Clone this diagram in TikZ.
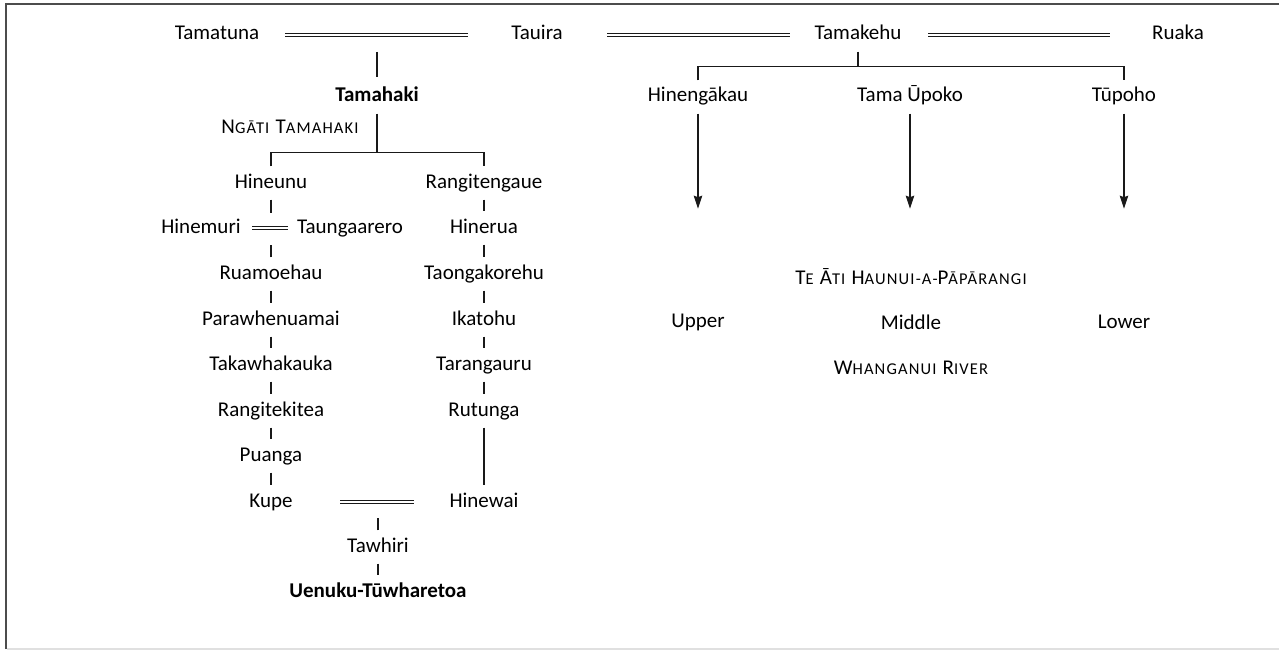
\documentclass[tikz,border=0pt]{standalone}
\usepackage{fontspec}
\setmainfont{Carlito}
\newfontfamily\spacedfont[LetterSpace=7]{Carlito}
\usetikzlibrary{arrows.meta,calc}

% reduced, tracked capitals for the group and river names
\newcommand{\lowcap}[1]{{\fontsize{16.5}{20}\selectfont #1}}
\newcommand{\namecaps}[1]{{\spacedfont\fontsize{21}{25}\selectfont #1}}

\begin{document}
\begin{tikzpicture}[x=1pt,y=-1pt,
  person/.style={inner xsep=8pt,inner ysep=0pt,text height=14pt,text depth=4pt,
                 minimum height=33pt,font=\fontsize{21}{25}\selectfont},
  chief/.style={person,font=\fontsize{21}{25}\selectfont\bfseries},
  caption/.style={inner sep=0pt,font=\fontsize{21}{25}\selectfont},
  kin/.style={line width=1.1pt,draw=black!90},
  marr/.style={line width=0.9pt,draw=black!90,double,double distance=1.8pt},
  flow/.style={line width=1.1pt,draw=black!90,-{Stealth[length=13pt,width=8.5pt,inset=1.5pt]}}]

\useasboundingbox (0,0) rectangle (1279,650);
% page frame
\draw[black!70,line width=2pt] (6,649) -- (6,4) -- (1279,4);
\draw[black!12,line width=2pt] (7,649) -- (1279,649);

% top generation
\node[person] (tamatuna) at (217,35) {Tamatuna};
\node[person] (tauira)   at (537,35) {Tauira};
\node[person] (tamakehu) at (858,35) {Tamakehu};
\node[person] (ruaka)    at (1178,35) {Ruaka};
\draw[marr,shorten <=68pt,shorten >=69pt] (tamatuna.center) -- (tauira.center);
\draw[marr,shorten <=70pt,shorten >=68pt] (tauira.center) -- (tamakehu.center);
\draw[marr,shorten <=70pt,shorten >=68pt] (tamakehu.center) -- (ruaka.center);

% Tamahaki line
\node[chief] (tamahaki) at (377,97) {Tamahaki};
\node[caption] (ngati) at (290,127) {\namecaps{N\lowcap{GĀTI} T\lowcap{AMAHAKI}}};
\coordinate (mtop) at ($(tamatuna.center)!0.5!(tauira.center)$);
\draw[kin,shorten <=17pt,shorten >=3.5pt] (mtop) -- (tamahaki.north);

\node[person] (hineunu)      at (271,183) {Hineunu};
\node[person] (rangitengaue) at (484,183) {Rangitengaue};
\draw[kin] (hineunu.north) -- ++(0,-13.5) coordinate (splitl) -| (rangitengaue.north);
\draw[kin] (tamahaki.south) -- (tamahaki.south |- splitl);

\node[person] (hinemuri)    at (201,228) {Hinemuri};
\node[person] (taungaarero) at (350,228) {Taungaarero};
\draw[marr,shorten <=51pt,shorten >=62pt] (hinemuri.center) -- (taungaarero.center);

\node[person] (ruamoehau)     at (271,274) {Ruamoehau};
\node[person] (parawhenuamai) at (271,320) {Parawhenuamai};
\node[person] (takawhakauka)  at (271,365) {Takawhakauka};
\node[person] (rangitekitea)  at (271,411) {Rangitekitea};
\node[person] (puanga)        at (271,456) {Puanga};
\node[person] (kupe)          at (271,502) {Kupe};

\draw[kin] (hineunu.south) -- ++(0,13);
\draw[kin] (ruamoehau.north) -- ++(0,-12.5);
\draw[kin] (ruamoehau) -- (parawhenuamai);
\draw[kin] (parawhenuamai) -- (takawhakauka);
\draw[kin] (takawhakauka) -- (rangitekitea);
\draw[kin] (rangitekitea) -- (puanga);
\draw[kin] (puanga) -- (kupe);

\node[person] (hinerua)      at (484,228) {Hinerua};
\node[person] (taongakorehu) at (484,274) {Taongakorehu};
\node[person] (ikatohu)      at (484,320) {Ikatohu};
\node[person] (tarangauru)   at (484,365) {Tarangauru};
\node[person] (rutunga)      at (484,411) {Rutunga};
\node[person] (hinewai)      at (484,502) {Hinewai};

\draw[kin] (rangitengaue) -- (hinerua);
\draw[kin] (hinerua) -- (taongakorehu);
\draw[kin] (taongakorehu) -- (ikatohu);
\draw[kin] (ikatohu) -- (tarangauru);
\draw[kin] (tarangauru) -- (rutunga);
\draw[kin] (rutunga) -- (hinewai);

\draw[marr,shorten <=69pt,shorten >=70pt] (kupe.center) -- (hinewai.center);

\node[person] (tawhiri) at (378,547) {Tawhiri};
\node[chief]  (uenuku)  at (378,592) {Uenuku-Tūwharetoa};
\draw[kin] (tawhiri.north) -- ++(0,-12);
\draw[kin] (tawhiri) -- (uenuku);

% Tamakehu's children and the river
\node[person] (hinengakau) at (698,97)  {Hinengākau};
\node[person] (tamaupoko)  at (910,97)  {Tama Ūpoko};
\node[person] (tupoho)     at (1124,97) {Tūpoho};
\draw[kin] (hinengakau.north) -- ++(0,-14) coordinate (splitr) -| (tupoho.north);
\draw[kin] (tamakehu.south) -- (tamakehu.south |- splitr);

\draw[flow] (hinengakau.south) -- ++(0,95);
\draw[flow] (tamaupoko.south) -- ++(0,95);
\draw[flow] (tupoho.south) -- ++(0,95);

\node[caption] (teati) at (911,277) {\namecaps{T\lowcap{E} Ā\lowcap{TI} H\lowcap{AUNUI-A-}P\lowcap{ĀPĀRANGI}}};
\node[caption] (upper)  at (698,322)  {Upper};
\node[caption] (middle) at (911,322)  {Middle};
\node[caption] (lower)  at (1124,322) {Lower};
\node[caption] (river)  at (911,368)  {\namecaps{W\lowcap{HANGANUI} R\lowcap{IVER}}};
\end{tikzpicture}
\end{document}
